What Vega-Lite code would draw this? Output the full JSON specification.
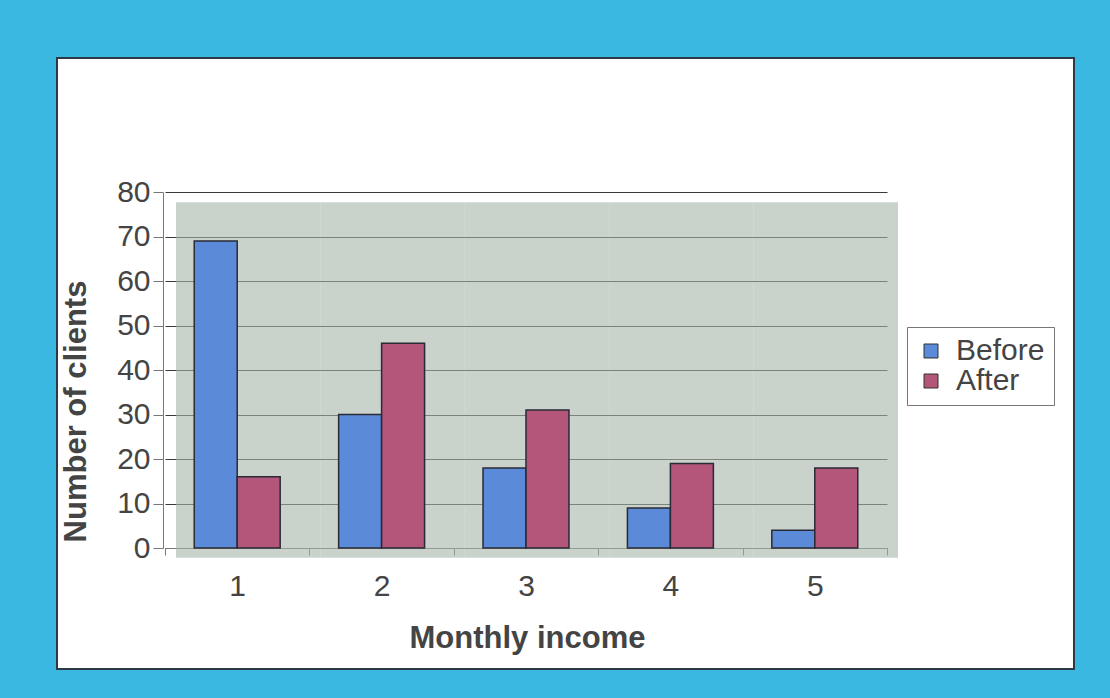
{
  "$schema": "https://vega.github.io/schema/vega-lite/v6.json",
  "width": 1017,
  "height": 611,
  "autosize": {"type": "none"},
  "padding": {"left": 57, "top": 58, "right": 36, "bottom": 29},
  "background": "#3ab8e2",
  "config": {
    "view": {"fill": "white", "stroke": "#2b3a44", "strokeWidth": 2},
    "font": "Liberation Sans"
  },
  "data": {
    "values": [
      {"income": "1", "period": "Before", "clients": 69},
      {"income": "1", "period": "After", "clients": 16},
      {"income": "2", "period": "Before", "clients": 30},
      {"income": "2", "period": "After", "clients": 46},
      {"income": "3", "period": "Before", "clients": 18},
      {"income": "3", "period": "After", "clients": 31},
      {"income": "4", "period": "Before", "clients": 9},
      {"income": "4", "period": "After", "clients": 19},
      {"income": "5", "period": "Before", "clients": 4},
      {"income": "5", "period": "After", "clients": 18}
    ]
  },
  "encoding": {
    "x": {
      "field": "income",
      "type": "ordinal",
      "scale": {"range": [108, 830], "paddingInner": 0, "paddingOuter": 0},
      "axis": {
        "title": "Monthly income",
        "orient": "bottom",
        "offset": -121,
        "labelAngle": 0,
        "tickBand": "extent",
        "tickSize": 7,
        "domainColor": "#777",
        "tickColor": "#777",
        "labelFontSize": 30,
        "labelColor": "#444",
        "labelPadding": 16,
        "titleFontSize": 31,
        "titleFontWeight": "bold",
        "titleColor": "#444",
        "titleX": 470,
        "titleY": 99,
        "titleAlign": "center",
        "titleBaseline": "alphabetic",
        "grid": false
      }
    }
  },
  "layer": [
    {
      "transform": [{"filter": "datum.period === 'Before'"}],
      "mark": {"type": "bar", "fill": "#a5b6aa", "fillOpacity": 0.6, "xOffset": 11, "stroke": null},
      "encoding": {
        "y": {"datum": 77.7, "type": "quantitative", "scale": {"domain": [0, 80], "range": [490, 134]}, "axis": {"title": "Number of clients"}},
        "y2": {"datum": -2.2}
      }
    },
    {
      "mark": {"type": "bar", "stroke": "#2a2a35", "strokeWidth": 1.5},
      "encoding": {
        "xOffset": {"field": "period", "sort": ["Before", "After"], "scale": {"paddingInner": 0, "paddingOuter": 0.68}},
        "y": {
          "field": "clients",
          "type": "quantitative",
          "scale": {"domain": [0, 80], "range": [490, 134]},
          "axis": {
            "title": "Number of clients",
            "orient": "left",
            "offset": -106,
            "values": [0, 10, 20, 30, 40, 50, 60, 70, 80],
            "grid": true,
            "gridColor": "#3a3a3a",
            "gridWidth": 1,
            "gridOpacity": 1,
            "domainColor": "#777",
            "tickColor": "#777",
            "tickSize": 10,
            "labelFontSize": 30,
            "labelColor": "#444",
            "labelPadding": 3,
            "titleFontSize": 31,
            "titleFontWeight": "bold",
            "titleColor": "#444",
            "titleX": -78,
            "titleY": 353,
            "titleAngle": 270,
            "titleAlign": "center",
            "titleBaseline": "alphabetic"
          }
        },
        "color": {
          "field": "period",
          "type": "nominal",
          "sort": ["Before", "After"],
          "scale": {"domain": ["Before", "After"], "range": ["#5b8ad8", "#b4557a"]},
          "legend": {
            "title": null,
            "orient": "none",
            "legendX": 850,
            "legendY": 269,
            "fillColor": "white",
            "strokeColor": "#777",
            "padding": 9,
            "labelFontSize": 30,
            "labelColor": "#444",
            "symbolType": "square",
            "symbolSize": 196,
            "symbolStrokeColor": "#333",
            "symbolStrokeWidth": 1,
            "labelOffset": 10,
            "rowPadding": 0
          }
        }
      }
    }
  ]
}
